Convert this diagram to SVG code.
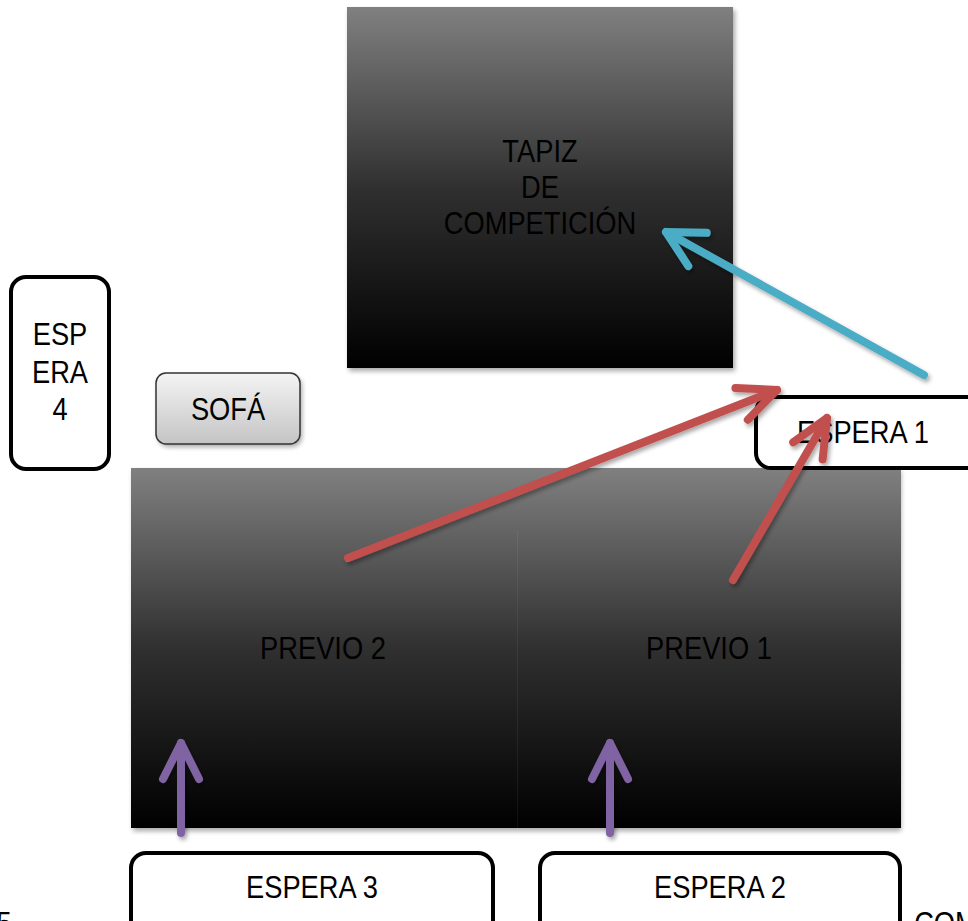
<svg xmlns="http://www.w3.org/2000/svg" width="968" height="921" viewBox="0 0 968 921">
<defs>
<linearGradient id="dark" x1="0" y1="0" x2="0" y2="1">
<stop offset="0" stop-color="#808080"/>
<stop offset="0.5" stop-color="#303030"/>
<stop offset="1" stop-color="#000"/>
</linearGradient>
<linearGradient id="light" x1="0" y1="0" x2="0" y2="1">
<stop offset="0" stop-color="#f4f4f4"/>
<stop offset="1" stop-color="#c4c4c4"/>
</linearGradient>
<filter id="blur" x="-10%" y="-10%" width="120%" height="120%">
<feGaussianBlur stdDeviation="2.5"/>
</filter>
<filter id="sh" x="-10%" y="-10%" width="130%" height="130%">
<feDropShadow dx="2" dy="3" stdDeviation="2" flood-color="#000" flood-opacity="0.35"/>
</filter>
<marker id="mb" markerUnits="userSpaceOnUse" viewBox="-50 -30 60 60" refX="0" refY="0" markerWidth="60" markerHeight="60" orient="auto" overflow="visible">
<path d="M-36,-19 L0,0 L-36,19" fill="none" stroke="#4bacc6" stroke-width="8" stroke-linecap="round" stroke-linejoin="round"/>
</marker>
<marker id="mr" markerUnits="userSpaceOnUse" viewBox="-50 -30 60 60" refX="0" refY="0" markerWidth="60" markerHeight="60" orient="auto" overflow="visible">
<path d="M-38,-17 L0,0 L-38,17" fill="none" stroke="#c0504d" stroke-width="8" stroke-linecap="round" stroke-linejoin="round"/>
</marker>
<marker id="mp" markerUnits="userSpaceOnUse" viewBox="-50 -30 60 60" refX="0" refY="0" markerWidth="60" markerHeight="60" orient="auto" overflow="visible">
<path d="M-36,-18 L0,0 L-36,18" fill="none" stroke="#8064a2" stroke-width="8" stroke-linecap="round" stroke-linejoin="round"/>
</marker>
</defs>
<style>
text{font-family:"Liberation Sans",Arial,sans-serif;font-size:31px;fill:#000;text-anchor:middle;transform-box:fill-box;transform-origin:center;transform:scaleX(0.88)}
.box{stroke:#000;stroke-width:4;fill:#fff}
.shadow{fill:#000;opacity:0.35}
.conn{fill:none;stroke-width:8;stroke-linecap:round}
</style>
<rect width="968" height="921" fill="#fff"/>

<g id="tapiz">
<rect class="shadow" x="349" y="10" width="386" height="361" filter="url(#blur)"/>
<rect x="347" y="7" width="386" height="361" fill="url(#dark)"/>
<text x="540" y="162">TAPIZ</text>
<text x="540" y="198">DE</text>
<text x="540" y="234">COMPETICIÓN</text>
</g>

<g id="espera4">
<rect class="box" x="11" y="277" width="98" height="192" rx="15"/>
<text x="60" y="345">ESP</text>
<text x="60" y="383">ERA</text>
<text x="60" y="420">4</text>
</g>

<g id="sofa">
<rect class="shadow" x="158" y="376" width="144" height="71" rx="10" filter="url(#blur)"/>
<rect x="156" y="373" width="144" height="71" rx="10" fill="url(#light)" stroke="#333" stroke-width="1.5"/>
<text x="228" y="420">SOFÁ</text>
</g>

<g id="previo2">
<rect class="shadow" x="133" y="471" width="768" height="360" filter="url(#blur)"/>
<rect x="131" y="468" width="386" height="360" fill="url(#dark)"/>
<text x="323" y="659">PREVIO 2</text>
</g>

<g id="previo1">
<rect x="517" y="468" width="384" height="360" fill="url(#dark)"/>
<line x1="517.5" y1="530" x2="517.5" y2="828" stroke="#fff" stroke-opacity="0.06"/>
<text x="709" y="659">PREVIO 1</text>
</g>

<g id="espera1">
<rect class="box" x="756" y="397" width="230" height="71" rx="15"/>
<text x="863" y="443">ESPERA 1</text>
</g>

<g id="espera3">
<rect class="box" x="131" y="853" width="362" height="90" rx="15"/>
<text x="312" y="898">ESPERA 3</text>
</g>

<g id="espera2">
<rect class="box" x="540" y="853" width="360" height="90" rx="15"/>
<text x="720" y="898">ESPERA 2</text>
</g>

<g id="partial">
<text x="4" y="934">5</text>
<text x="946" y="934">COM</text>
</g>

<g id="connectors" filter="url(#sh)">
<line class="conn" x1="924" y1="375" x2="666" y2="232" stroke="#4bacc6" marker-end="url(#mb)"/>
<line class="conn" x1="348" y1="558" x2="777" y2="390" stroke="#c0504d" marker-end="url(#mr)"/>
<line class="conn" x1="733" y1="580" x2="827" y2="418" stroke="#c0504d" marker-end="url(#mr)"/>
<line class="conn" x1="181" y1="833" x2="181" y2="743" stroke="#8064a2" marker-end="url(#mp)"/>
<line class="conn" x1="610" y1="833" x2="610" y2="743" stroke="#8064a2" marker-end="url(#mp)"/>
</g>
</svg>
